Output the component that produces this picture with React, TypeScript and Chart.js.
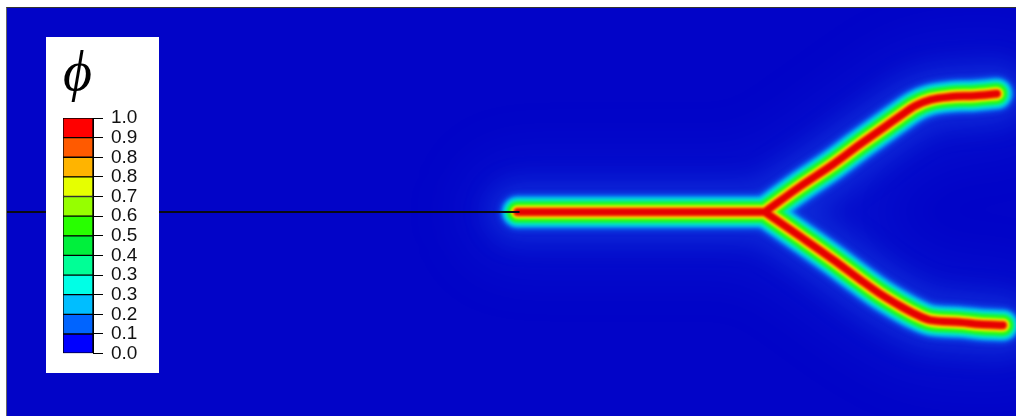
import React, { useEffect, useRef } from 'react';
import { Chart, registerables } from 'chart.js';

Chart.register(...registerables);

// Crack geometry in mm: plate is 100 x 40, pre-notch along y = 0.
const notchX = [0, 50.8];
const notchY = [0, 0];
const stemX = [50.6, 75.1];
const stemY = [0, 0];
const upperX = [75.1, 78.6, 81.9, 84.5, 86.5, 88.5, 90.0, 91.5, 93.5, 95.9, 98.1];
const upperY = [0, 2.5, 4.7, 6.6, 8.0, 9.4, 10.4, 11.0, 11.3, 11.4, 11.6];
const lowerX = [75.1, 78.6, 81.9, 84.5, 86.5, 88.5, 90.0, 91.5, 94.4, 96.4, 98.7];
const lowerY = [0, -2.4, -4.7, -6.6, -8.0, -9.2, -10.0, -10.6, -10.8, -11.0, -11.1];

// Colour bar for the phase field: 12 contour bands between 0 and 1.
const phiTickLabels = ['0.0', '0.1', '0.2', '0.3', '0.3', '0.4', '0.5', '0.6', '0.7', '0.8', '0.8', '0.9', '1.0'];
const bandSpans = [1, 1, 1, 1, 1, 1, 1, 1, 1, 1, 1, 1];
const bandColors = [
  '#0000ff', '#0064ff', '#00beff', '#00ffe6', '#00ff96', '#00f03c',
  '#28ff00', '#96ff00', '#e6ff00', '#ffb400', '#ff5a00', '#ff0000',
];

// Damage halo around the crack path: widest / faintest first, red core last.
const halo = [
  { width: 120, color: 'rgba(40,120,255,0.10)', blur: 26 },
  { width: 60, color: 'rgba(40,130,255,0.22)', blur: 12 },
  { width: 33, color: '#0a78ff', blur: 3 },
  { width: 29, color: '#00c8f0', blur: 2 },
  { width: 25, color: '#00f0b4', blur: 2 },
  { width: 21, color: '#14f532', blur: 1.5 },
  { width: 16, color: '#50ff00', blur: 1.5 },
  { width: 13, color: '#dcf000', blur: 1.2 },
  { width: 10, color: '#ff9600', blur: 1 },
  { width: 7, color: '#e60000', blur: 0.8 },
];

const FIELD_BLUE = 'rgb(2,4,200)';

const toPoints = (xs: number[], ys: number[]) => xs.map((x, i) => ({ x, y: ys[i] }));
const gapAt = (x: number) => ({ x, y: null as any });

// stem, upper branch and lower branch as separate runs of one polyline
const crackPath = [
  ...toPoints(stemX, stemY),
  gapAt(stemX[stemX.length - 1]),
  ...toPoints(upperX, upperY),
  gapAt(upperX[upperX.length - 1]),
  ...toPoints(lowerX, lowerY),
];

const fieldBlur = {
  id: 'fieldBlur',
  beforeDraw(chart: any) {
    const { ctx, chartArea } = chart;
    ctx.save();
    ctx.fillStyle = FIELD_BLUE;
    ctx.fillRect(chartArea.left, chartArea.top, chartArea.right - chartArea.left, chartArea.bottom - chartArea.top);
    ctx.restore();
  },
  beforeDatasetDraw(chart: any, args: any) {
    const ds = chart.data.datasets[args.index];
    chart.ctx.save();
    if (ds.blur) chart.ctx.filter = `blur(${ds.blur}px)`;
  },
  afterDatasetDraw(chart: any) {
    chart.ctx.restore();
  },
};

export default function App() {
  const fieldRef = useRef<HTMLCanvasElement>(null);
  const barRef = useRef<HTMLCanvasElement>(null);

  useEffect(() => {
    document.body.style.margin = '0';

    const haloSets = halo.map((h, i) => ({
      data: crackPath,
      borderColor: h.color,
      borderWidth: h.width,
      borderCapStyle: 'round',
      borderJoinStyle: 'round',
      cubicInterpolationMode: 'monotone',
      pointRadius: 0,
      spanGaps: false,
      fill: false,
      order: halo.length - i,
      blur: h.blur,
    }));

    const field = new Chart(fieldRef.current!, {
      type: 'line',
      data: {
        datasets: [
          ...haloSets,
          {
            data: toPoints(notchX, notchY),
            borderColor: '#0a0a14',
            borderWidth: 1.8,
            pointRadius: 0,
            fill: false,
            order: -1,
          } as any,
        ] as any,
      },
      options: {
        animation: false,
        responsive: false,
        events: [],
        layout: { padding: 0 },
        plugins: { legend: { display: false }, tooltip: { enabled: false }, title: { display: false } },
        scales: {
          x: { type: 'linear', min: 0, max: 100, display: false },
          y: { type: 'linear', min: -20, max: 20, display: false },
        },
      },
      plugins: [fieldBlur],
    });

    const bar = new Chart(barRef.current!, {
      type: 'bar',
      data: {
        labels: ['phi'],
        datasets: bandSpans.map((v, i) => ({
          data: [v],
          backgroundColor: bandColors[i],
          borderColor: '#000',
          borderWidth: 1,
          borderSkipped: false,
          barPercentage: 1,
          categoryPercentage: 1,
          stack: 'phi',
        })) as any,
      },
      options: {
        animation: false,
        responsive: false,
        events: [],
        layout: { padding: { left: 17, right: 0, top: 0, bottom: 18 } },
        plugins: {
          legend: { display: false },
          tooltip: { enabled: false },
          title: {
            display: true,
            text: '\u03D5',
            align: 'start',
            color: '#000',
            font: { family: '"Liberation Serif", "DejaVu Serif", serif', style: 'italic', size: 56, lineHeight: 1, weight: 'normal' },
            padding: { top: 10, bottom: 15 },
          },
        },
        scales: {
          x: { display: false, stacked: true },
          y: {
            stacked: true,
            position: 'right',
            min: 0,
            max: 12,
            afterFit: (s: any) => { s.width = 66; },
            ticks: {
              stepSize: 1,
              autoSkip: false,
              padding: 8,
              color: '#111',
              font: { family: '"Liberation Sans", Arial, sans-serif', size: 19 },
              callback: (v: any) => phiTickLabels[Math.round(Number(v))],
            },
            grid: { drawOnChartArea: false, drawTicks: true, tickLength: 10, color: '#000' },
            border: { display: true, color: '#000' },
          },
        },
      } as any,
    });

    return () => {
      field.destroy();
      bar.destroy();
    };
  }, []);

  return (
    <div style={{ position: 'relative', width: 1016, height: 416, background: '#fff', overflow: 'hidden' }}>
      <div
        style={{
          position: 'absolute',
          left: 6,
          top: 7,
          borderLeft: '1px solid #666',
          borderTop: '1px solid #333',
        }}
      >
        <canvas ref={fieldRef} width={1009} height={408} style={{ display: 'block', width: 1009, height: 408 }} />
      </div>
      <canvas
        ref={barRef}
        width={113}
        height={336}
        style={{ position: 'absolute', left: 46, top: 37, width: 113, height: 336, background: '#fff' }}
      />
    </div>
  );
}
